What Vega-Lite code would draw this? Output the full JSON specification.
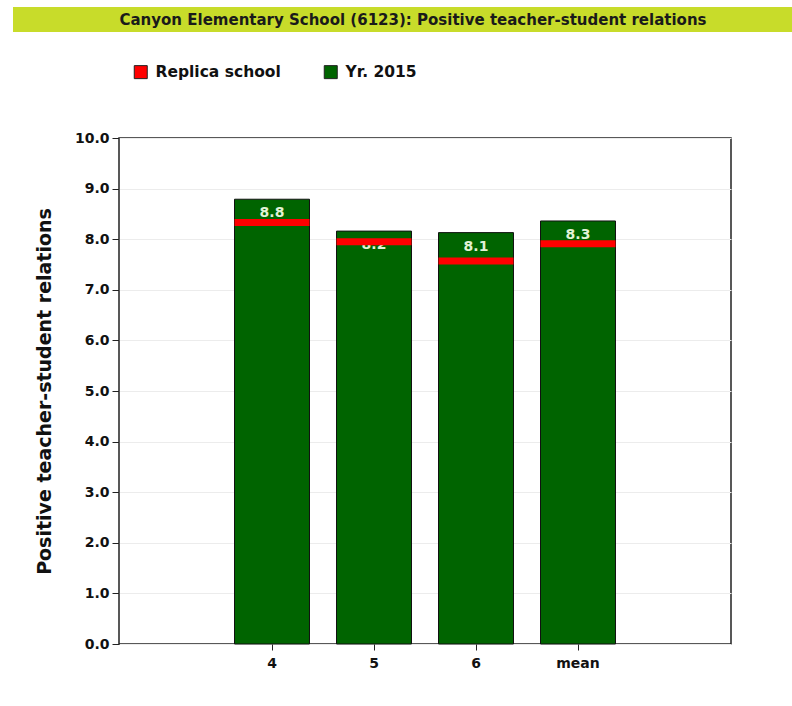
{
  "$schema": "https://vega.github.io/schema/vega-lite/v6.json",
  "padding": {"left": 13, "top": 7, "right": 0, "bottom": 0},
  "background": "white",
  "bounds": "flush",
  "center": true,
  "spacing": 106,
  "datasets": {
    "header": [{"title": "Canyon Elementary School (6123): Positive teacher-student relations"}],
    "scores": [
      {"grade": "4", "series": "Yr. 2015", "value": 8.79, "label": "8.8"},
      {"grade": "5", "series": "Yr. 2015", "value": 8.16, "label": "8.2"},
      {"grade": "6", "series": "Yr. 2015", "value": 8.13, "label": "8.1"},
      {"grade": "mean", "series": "Yr. 2015", "value": 8.36, "label": "8.3"},
      {"grade": "4", "series": "Replica school", "value": 8.33, "label": ""},
      {"grade": "5", "series": "Replica school", "value": 7.95, "label": ""},
      {"grade": "6", "series": "Replica school", "value": 7.57, "label": ""},
      {"grade": "mean", "series": "Replica school", "value": 7.91, "label": ""}
    ]
  },
  "vconcat": [
    {
      "data": {"name": "header"},
      "width": 824,
      "height": 25,
      "view": {"fill": "#c8dc2a", "stroke": null},
      "mark": {"type": "text", "font": "DejaVu Sans", "fontWeight": "bold", "fontSize": 15, "color": "#1a1a1a", "dx": -12, "align": "center", "baseline": "middle"},
      "encoding": {"text": {"field": "title", "type": "nominal"}}
    },
    {
      "data": {"name": "scores"},
      "width": 612,
      "height": 506,
      "view": {"stroke": "#222", "strokeWidth": 1.5},
      "encoding": {
        "x": {
          "field": "grade",
          "type": "nominal",
          "sort": null,
          "scale": {"domain": ["_left", "4", "5", "6", "mean", "_right"], "paddingInner": 0.265, "paddingOuter": 0.1325},
          "axis": {
            "title": null,
            "values": ["4", "5", "6", "mean"],
            "labelAngle": 0,
            "labelFont": "DejaVu Sans",
            "labelFontWeight": "bold",
            "labelFontSize": 14,
            "labelColor": "#111",
            "labelPadding": 6,
            "tickSize": 6,
            "tickColor": "#222",
            "domain": false,
            "grid": false
          }
        }
      },
      "layer": [
        {
          "transform": [{"filter": "datum.series === 'Yr. 2015'"}],
          "mark": {"type": "bar", "stroke": "#111", "strokeWidth": 1},
          "encoding": {
            "y": {
              "field": "value",
              "type": "quantitative",
              "scale": {"domain": [0, 10]},
              "axis": {
                "title": "Positive teacher-student relations",
                "titleFont": "DejaVu Sans",
                "titleFontWeight": "bold",
                "titleFontSize": 19,
                "titleColor": "#111",
                "titlePadding": 20,
                "values": [0, 1, 2, 3, 4, 5, 6, 7, 8, 9, 10],
                "format": ".1f",
                "labelFont": "DejaVu Sans",
                "labelFontWeight": "bold",
                "labelFontSize": 14,
                "labelColor": "#111",
                "labelPadding": 3,
                "tickSize": 7,
                "tickColor": "#222",
                "domain": false,
                "grid": true,
                "gridColor": "#ececec"
              }
            },
            "color": {
              "field": "series",
              "type": "nominal",
              "scale": {"domain": ["Replica school", "Yr. 2015"], "range": ["#ff0000", "#006400"]},
              "legend": {
                "orient": "none",
                "legendX": 120,
                "legendY": 57,
                "direction": "horizontal",
                "title": null,
                "symbolType": "square",
                "symbolSize": 169,
                "symbolStrokeColor": "#222",
                "symbolStrokeWidth": 1,
                "symbolOpacity": 1,
                "labelFont": "DejaVu Sans",
                "labelFontWeight": "bold",
                "labelFontSize": 15.5,
                "labelColor": "#111",
                "labelOffset": 7,
                "columnPadding": 41
              }
            }
          }
        },
        {
          "transform": [{"filter": "datum.series === 'Yr. 2015'"}],
          "mark": {"type": "text", "dy": 14, "baseline": "middle", "align": "center", "font": "DejaVu Sans", "fontWeight": "bold", "fontSize": 14, "color": "#e2f2d6"},
          "encoding": {
            "y": {"field": "value", "type": "quantitative"},
            "text": {"field": "label", "type": "nominal"}
          }
        },
        {
          "transform": [{"filter": "datum.series === 'Replica school'"}],
          "mark": {"type": "tick", "thickness": 7, "size": 75, "opacity": 1},
          "encoding": {
            "y": {"field": "value", "type": "quantitative"},
            "color": {"field": "series", "type": "nominal"}
          }
        }
      ]
    }
  ]
}
